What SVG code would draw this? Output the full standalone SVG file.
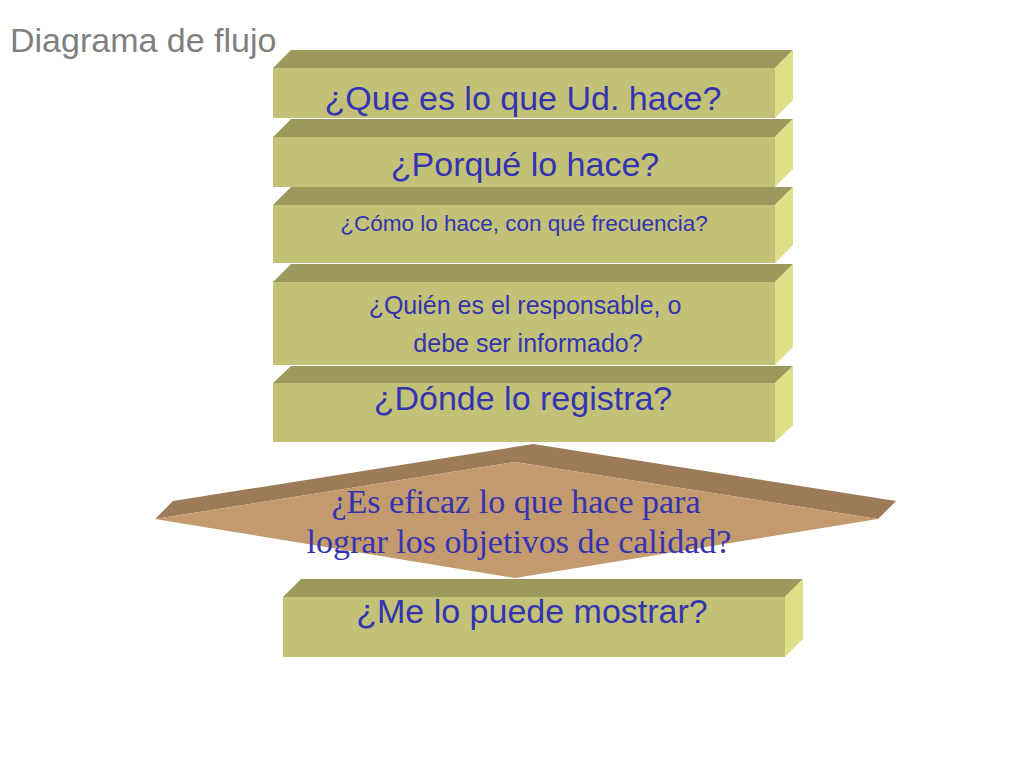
<svg xmlns="http://www.w3.org/2000/svg" width="1024" height="768" viewBox="0 0 1024 768">
<style>
.front{fill:#c2c177}
.top{fill:#9b9a5c}
.side{fill:#dfdf88}
.t{font-family:"Liberation Sans",Arial,sans-serif;fill:#3434b0;text-anchor:middle}
.big{font-size:34px}
.ser{font-family:"Liberation Serif","Times New Roman",serif;font-size:34px;fill:#3434b0;text-anchor:middle}
</style>
<rect width="1024" height="768" fill="#ffffff"/>
<text x="10" y="52" font-family="Liberation Sans, Arial, sans-serif" font-size="34" fill="#808080">Diagrama de flujo</text>

<g id="box1">
<polygon class="top" points="273,68 291,50 793,50 775,68"/>
<polygon class="side" points="775,68 793,50 793,100 775,118"/>
<rect class="front" x="273" y="68" width="502" height="50"/>
<text class="t big" x="523" y="110">¿Que es lo que Ud. hace?</text>
</g>

<g id="box2">
<polygon class="top" points="273,137 291,119 793,119 775,137"/>
<polygon class="side" points="775,137 793,119 793,169 775,187"/>
<rect class="front" x="273" y="137" width="502" height="50"/>
<text class="t big" x="525" y="176">¿Porqué lo hace?</text>
</g>

<g id="box3">
<polygon class="top" points="273,205 291,187 793,187 775,205"/>
<polygon class="side" points="775,205 793,187 793,245 775,263"/>
<rect class="front" x="273" y="205" width="502" height="58"/>
<text class="t" x="524" y="231" font-size="22.5">¿Cómo lo hace, con qué frecuencia?</text>
</g>

<g id="box4">
<polygon class="top" points="273,282 291,264 793,264 775,282"/>
<polygon class="side" points="775,282 793,264 793,347 775,365"/>
<rect class="front" x="273" y="282" width="502" height="83"/>
<text class="t" x="525" y="314" font-size="25">¿Quién es el responsable, o</text>
<text class="t" x="528" y="352" font-size="25">debe ser informado?</text>
</g>

<g id="box5">
<polygon class="top" points="273,383 291,366 793,366 775,383"/>
<polygon class="side" points="775,383 793,366 793,425 775,442"/>
<rect class="front" x="273" y="383" width="502" height="59"/>
<text class="t big" x="523" y="410">¿Dónde lo registra?</text>
</g>

<g id="box6">
<polygon class="top" points="283,597 301,579 803,579 785,597"/>
<polygon class="side" points="785,597 803,579 803,639 785,657"/>
<rect class="front" x="283" y="597" width="502" height="60"/>
<text class="t big" x="532" y="623">¿Me lo puede mostrar?</text>
</g>

<g id="decision">
<polygon fill="#9e7b58" points="155,519 173,501 533,444 896,501 878,519 515,462"/>
<polygon fill="#c29a6e" points="515,462 878,519 515,578 155,519"/>
<text class="ser" x="516" y="513">¿Es eficaz lo que hace para</text>
<text class="ser" x="519" y="553">lograr los objetivos de calidad?</text>
</g>

<g id="connectors"/>
</svg>
